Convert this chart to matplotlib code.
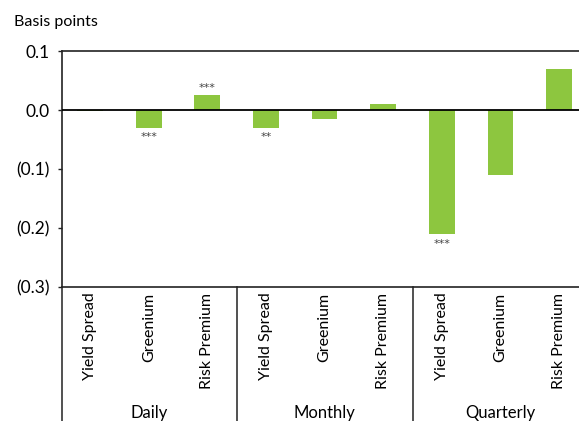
import matplotlib.pyplot as plt

plt.rcParams['font.family'] = ['Lato', 'DejaVu Sans']

groups = ["Daily", "Monthly", "Quarterly"]
measures = ["Yield Spread", "Greenium", "Risk Premium"]
values = [-0.002, -0.03, 0.025,
          -0.03, -0.015, 0.01,
          -0.21, -0.11, 0.07]
stars = ["", "***", "***",
         "**", "", "",
         "***", "", ""]
yticks = [0.1, 0.0, -0.1, -0.2, -0.3]
ytick_labels = ["0.1", "0.0", "(0.1)", "(0.2)", "(0.3)"]

green = "#8dc63f"

fig = plt.figure(figsize=(5.79, 4.21), dpi=100)
ax = fig.add_axes([62 / 579, 1 - 287 / 421, 1 - 62 / 579, (287 - 51) / 421])

x = list(range(len(values)))
ax.bar(x, values, width=0.44, color=green, zorder=2)
ax.axhline(0, color="black", lw=1.3, zorder=3)

for i, (v, s) in enumerate(zip(values, stars)):
    if not s:
        continue
    if v >= 0:
        ax.text(i, v + 0.004, s, ha="center", va="bottom", fontsize=8,
                color="#444444", family="DejaVu Sans")
    else:
        ax.text(i, v - 0.008, s, ha="center", va="top", fontsize=8,
                color="#444444", family="DejaVu Sans")

ax.set_ylim(-0.3, 0.1)
ax.set_xlim(-0.48, 8.34)
ax.set_yticks(yticks)
ax.set_yticklabels(ytick_labels, fontsize=12.5)
ax.tick_params(axis="y", length=3, width=1, pad=6, color="#222222")
ax.set_xticks(x)
ax.set_xticklabels(measures * 3, fontsize=11.5, rotation=90, va="top", ha="center")
ax.tick_params(axis="x", length=0, pad=4)

for side in ["top", "bottom", "left"]:
    ax.spines[side].set_color("#222222")
    ax.spines[side].set_linewidth(1.2)
ax.spines["right"].set_visible(False)

# group separators and extended left edge below the axis
trans = ax.get_xaxis_transform()
depth = -(421 - 287) / (287 - 51)
for xs in [-0.48, 2.5, 5.5]:
    ax.plot([xs, xs], [0, depth], transform=trans, color="#333333", lw=1.2, clip_on=False)

for gi, g in enumerate(groups):
    ax.text(gi * 3 + 1, -0.555, g, transform=trans, ha="center", va="baseline", fontsize=12)

fig.text(14 / 579, 1 - 22 / 421, "Basis points", ha="left", va="center", fontsize=11.5)

fig.savefig("out.png", dpi=100)
